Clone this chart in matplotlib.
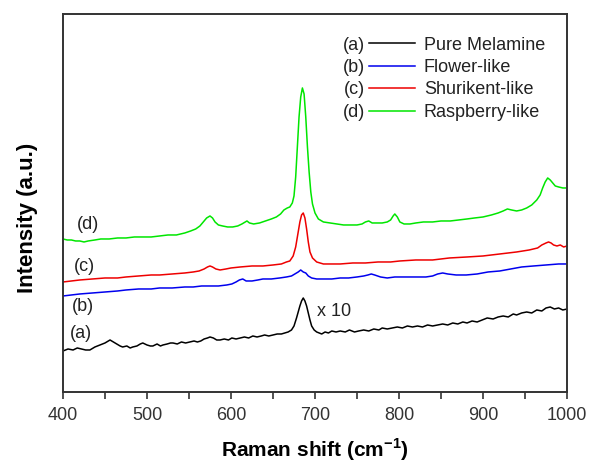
import numpy as np
import matplotlib
matplotlib.use("Agg")
import matplotlib.pyplot as plt
from matplotlib.lines import Line2D

plt.rcParams["font.family"] = ["Liberation Sans", "DejaVu Sans"]
plt.rcParams["mathtext.fontset"] = "custom"
plt.rcParams["mathtext.rm"] = "Liberation Sans"
plt.rcParams["mathtext.bf"] = "Liberation Sans:bold"

# (a) pure melamine, x10
black_x = [400, 406, 412, 417, 422, 427, 432, 438, 444, 450, 456, 460, 464, 468, 471, 476, 480, 483, 488, 492,
           495, 500, 504, 507, 512, 516, 519, 524, 528, 531, 536, 541, 546, 551, 556, 560, 564, 568, 572, 575,
           579, 583, 587, 592, 597, 601, 606, 611, 616, 621, 626, 631, 636, 640, 645, 650, 655, 660, 664, 668,
           672, 675, 678, 680, 682, 684, 686, 688, 690, 692, 694, 696, 699, 702, 705, 708, 712, 716, 720, 725,
           730, 736, 741, 747, 752, 758, 764, 770, 776, 780, 786, 792, 798, 804, 810, 816, 822, 828, 834, 840,
           846, 852, 858, 864, 870, 876, 881, 887, 893, 899, 905, 912, 918, 924, 930, 936, 940, 946, 952, 958,
           964, 970, 975, 980, 985, 990, 995, 1000]
black_y = [41, 43, 42, 44, 43, 42, 42, 45, 47, 49, 52, 50, 48, 46, 45, 46, 44, 45, 46, 48,
           49, 47, 46, 46, 48, 46, 47, 48, 49, 49, 48, 50, 49, 50, 51, 50, 51, 53, 54, 55,
           54, 52, 52, 53, 52, 54, 53, 54, 55, 54, 56, 55, 56, 57, 56, 57, 58, 58, 59, 60,
           62, 66, 74, 80, 86, 91, 94, 91, 86, 79, 72, 66, 62, 60, 59, 58, 60, 59, 61, 60,
           61, 60, 62, 60, 61, 62, 61, 63, 62, 64, 63, 64, 65, 64, 66, 65, 66, 65, 67, 66,
           67, 68, 67, 69, 68, 70, 69, 71, 70, 72, 74, 73, 75, 76, 75, 78, 77, 79, 80, 79,
           82, 81, 84, 85, 83, 84, 82, 83]

# (b) flower-like
blue_x = [400, 410, 420, 435, 450, 465, 475, 490, 505, 515, 530, 545, 555, 565, 575, 585, 595, 601, 606, 610,
          614, 618, 625, 632, 638, 648, 658, 666, 672, 676, 680, 683, 686, 689, 692, 696, 702, 710, 720, 730,
          740, 750, 758, 763, 767, 771, 778, 786, 795, 805, 815, 825, 832, 840, 846, 852, 858, 868, 880, 893,
          906, 920, 933, 946, 960, 975, 990, 1000]
blue_y = [96, 97, 98, 99, 100, 101, 102, 103, 103, 104, 104, 105, 105, 106, 106, 106, 107, 108, 110, 112,
          113, 111, 111, 112, 113, 113, 114, 115, 116, 118, 120, 122, 120, 119, 116, 114, 113, 113, 113, 114,
          114, 115, 116, 117, 118, 117, 115, 114, 115, 115, 115, 115, 115, 116, 118, 119, 118, 117, 117, 118,
          120, 121, 123, 125, 126, 127, 128, 128]

# (c) shurikent-like
red_x = [400, 410, 420, 435, 450, 465, 475, 490, 505, 515, 530, 545, 555, 562, 568, 572, 575, 578, 582, 587,
         594, 600, 611, 625, 638, 650, 660, 666, 670, 674, 677, 680, 682, 684, 686, 688, 690, 692, 694, 697,
         702, 710, 717, 730, 745, 760, 775, 790, 801, 820, 840, 860, 881, 900, 920, 940, 955, 965, 970, 975,
         978, 981, 984, 988, 992, 996, 1000]
red_y = [110, 111, 112, 113, 114, 114, 115, 116, 117, 117, 118, 119, 120, 121, 123, 125, 126, 125, 123, 122,
         123, 124, 125, 126, 126, 127, 128, 130, 131, 136, 145, 160, 170, 177, 179, 174, 163, 150, 140, 134,
         130, 128, 128, 128, 129, 129, 130, 130, 131, 132, 132, 134, 135, 136, 138, 140, 142, 144, 147, 149,
         150, 149, 147, 146, 147, 145, 146]

# (d) raspberry-like
green_x = [400, 405, 410, 415, 420, 425, 430, 438, 445, 455, 465, 475, 485, 495, 505, 515, 525, 535, 545, 552,
           558, 563, 567, 571, 575, 578, 581, 585, 590, 596, 602, 608, 613, 617, 619, 622, 627, 634, 641, 648,
           654, 659, 663, 667, 670, 673, 675, 677, 679, 681, 683, 685, 687, 689, 691, 693, 695, 697, 700, 704,
           710, 718, 726, 734, 742, 750, 756, 760, 764, 768, 774, 780, 786, 790, 793, 795, 798, 801, 806, 813,
           820, 829, 840, 850, 861, 871, 881, 890, 900, 910, 918, 924, 929, 934, 940, 946, 952, 958, 964, 968,
           971, 974, 977, 980, 983, 986, 990, 995, 1000]
green_y = [153, 152, 152, 151, 151, 150, 151, 152, 153, 153, 154, 154, 155, 155, 155, 156, 157, 157, 159, 161,
           163, 166, 170, 174, 176, 174, 170, 167, 166, 165, 165, 166, 168, 170, 171, 169, 168, 169, 171, 173,
           175, 178, 182, 184, 185, 189, 196, 215, 245, 275, 295, 304, 298, 275, 245, 220, 200, 188, 179, 173,
           170, 169, 168, 167, 167, 167, 168, 170, 171, 169, 169, 169, 170, 172, 176, 178, 175, 170, 168, 168,
           169, 170, 170, 171, 171, 172, 173, 174, 175, 177, 179, 181, 183, 182, 181, 182, 184, 187, 192, 197,
           204, 210, 214, 212, 209, 206, 205, 204, 204]

tags = ["(a)", "(b)", "(c)", "(d)"]
names = ["Pure Melamine", "Flower-like", "Shurikent-like", "Raspberry-like"]
colors = ["black", "#0000ee", "#ee0000", "#00e600"]
tag_x = [421, 424, 426, 430]
tag_y = [58, 85, 125, 167]

fig = plt.figure(figsize=(5.92, 4.65), dpi=100)
ax = fig.add_axes([0.1064, 0.157, 0.8514, 0.813])

series = [(black_x, black_y), (blue_x, blue_y), (red_x, red_y), (green_x, green_y)]
lines = []
for (xs, ys), c in zip(series, colors):
    ln, = ax.plot(xs, ys, color=c, lw=1.1)
    lines.append(ln)

for t, tx, ty in zip(tags, tag_x, tag_y):
    ax.text(tx, ty, t, fontsize=13, color="#222222", ha="center", va="center")
ax.text(702, 80, "x 10", fontsize=13, color="#222222", ha="left", va="center")

ax.set_xlim(400, 1000)
ax.set_ylim(0, 378)
ax.set_xticks([400, 500, 600, 700, 800, 900, 1000])
ax.set_xticks(np.arange(450, 1000, 100), minor=True)
ax.set_yticks([])
ax.tick_params(axis="x", which="both", direction="out", length=5, width=1.2,
               colors="#333333", labelsize=13, labelcolor="#333333", pad=6)
for s in ax.spines.values():
    s.set_linewidth(1.4)
    s.set_color("#333333")

ax.set_xlabel(r"Raman shift (cm$^{\mathbf{-1}}$)", fontsize=15, fontweight="bold", labelpad=9)
ax.set_ylabel("Intensity (a.u.)", fontsize=16, fontweight="bold")
ax.yaxis.set_label_coords(-0.05, 0.46)

leg1 = ax.legend(lines, tags, loc="upper left", bbox_to_anchor=(0.556, 0.94), frameon=False,
                 markerfirst=False, fontsize=13, handlelength=2.55, handletextpad=0.22,
                 labelspacing=0.3, borderpad=0, borderaxespad=0)
for t in leg1.get_texts():
    t.set_color("#222222")
ax.add_artist(leg1)
blank = [Line2D([], [], lw=0) for _ in names]
leg2 = ax.legend(blank, names, loc="upper left", bbox_to_anchor=(0.716, 0.94), frameon=False,
                 fontsize=13, handlelength=0, handletextpad=0,
                 labelspacing=0.3, borderpad=0, borderaxespad=0)
for t in leg2.get_texts():
    t.set_color("#222222")

fig.savefig("out.png", dpi=100)
